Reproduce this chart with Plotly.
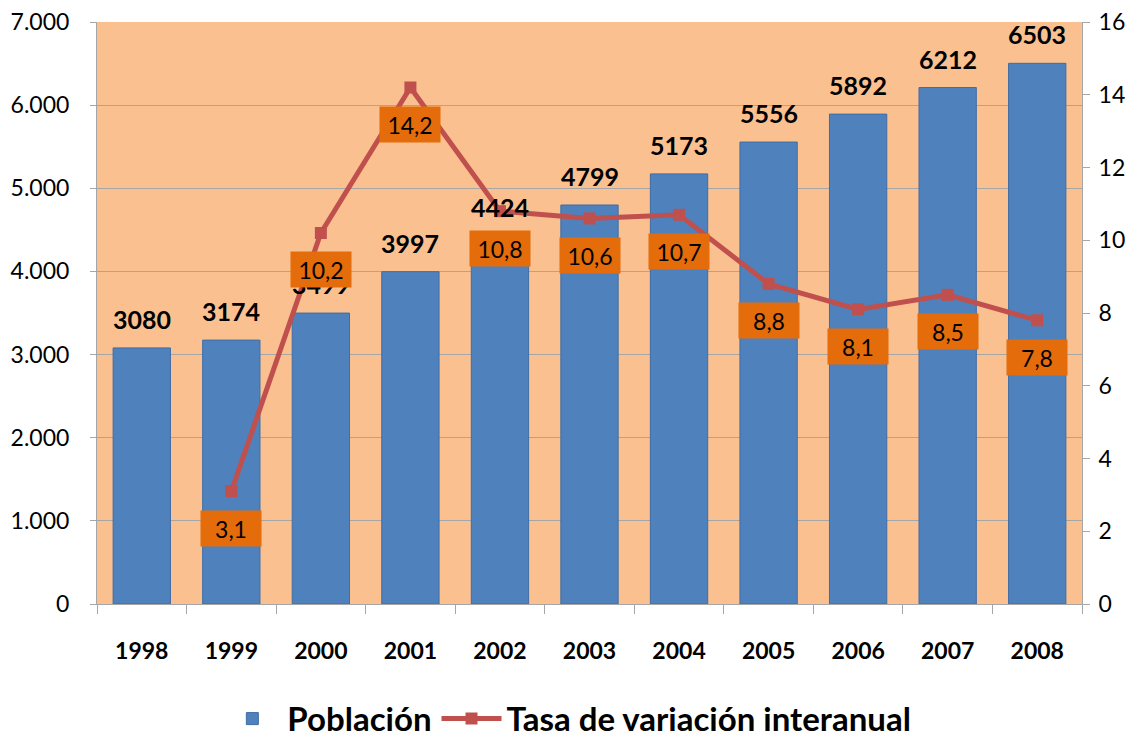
import plotly.graph_objects as go

years = ["1998", "1999", "2000", "2001", "2002", "2003", "2004", "2005", "2006", "2007", "2008"]
poblacion = [3080, 3174, 3499, 3997, 4424, 4799, 5173, 5556, 5892, 6212, 6503]
tasa_years = ["1999", "2000", "2001", "2002", "2003", "2004", "2005", "2006", "2007", "2008"]
tasa = [3.1, 10.2, 14.2, 10.8, 10.6, 10.7, 8.8, 8.1, 8.5, 7.8]
left_ticks = [0, 1000, 2000, 3000, 4000, 5000, 6000, 7000]
right_ticks = [0, 2, 4, 6, 8, 10, 12, 14, 16]

FONT = "Lato"
BLUE = "#4F81BD"
RED = "#C0504D"
ORANGE_BOX = "#E46C0A"
BG = "#FAC090"
GRID = "#A6A6A6"

fig = go.Figure()
fig.add_trace(go.Bar(
    x=years, y=poblacion, name="Población",
    marker=dict(color=BLUE, line=dict(color="#3E6DA6", width=1)),
    yaxis="y",
))
fig.add_trace(go.Scatter(
    x=tasa_years, y=tasa, name="Tasa de variación interanual",
    mode="lines+markers",
    line=dict(color=RED, width=5),
    marker=dict(symbol="square", size=12, color=RED),
    yaxis="y2",
))

annotations = []
for x, v in zip(years, poblacion):
    annotations.append(dict(
        x=years.index(x), y=v, xref="x", yref="y", text=str(v), showarrow=False,
        yshift=29, font=dict(family=FONT, size=25, color="black", weight="bold"),
    ))
for x, v in zip(tasa_years, tasa):
    annotations.append(dict(
        x=years.index(x), y=v, xref="x", yref="y2", text=f"{v:.1f}".replace(".", ","),
        showarrow=False, yshift=-37, bgcolor=ORANGE_BOX, borderpad=0,
        width=60, height=35, valign="middle",
        font=dict(family=FONT, size=23, color="black"),
    ))

fig.update_layout(
    width=1136, height=726,
    margin=dict(l=89, r=62, t=14, b=130, autoexpand=False),
    paper_bgcolor="white", plot_bgcolor=BG,
    separators=",.",
    bargap=0.36,
    showlegend=True,
    legend=dict(orientation="h", x=0.477, xanchor="center", y=-0.197, yanchor="middle",
                font=dict(family=FONT, size=33, color="black", weight="bold"),
                itemwidth=60),
    xaxis=dict(
        type="category", categoryorder="array", categoryarray=years,
        range=[-0.5, len(years) - 0.5], automargin=False,
        showline=True, linecolor=GRID, ticks="outside",
        tickson="boundaries", ticklen=9, tickcolor=GRID, tickangle=0,
        tickfont=dict(family=FONT, size=23, color="black", weight="bold"),
        ticklabelstandoff=26,
    ),
    yaxis=dict(
        range=[0, 7000], tickvals=left_ticks, tickformat=",d", automargin=False,
        showgrid=True, gridcolor=GRID, gridwidth=1, ticklabeloverflow="allow",
        showline=True, linecolor=GRID, ticks="outside", ticklen=6, tickcolor=GRID,
        tickfont=dict(family=FONT, size=23, color="black"),
        ticklabelstandoff=16, zeroline=False,
    ),
    yaxis2=dict(
        range=[0, 16], tickvals=right_ticks, overlaying="y", side="right", automargin=False,
        showgrid=False, showline=True, linecolor=GRID, ticks="outside", ticklen=7,
        tickcolor=GRID, tickfont=dict(family=FONT, size=23, color="black"),
        ticklabelstandoff=4, zeroline=False, ticklabeloverflow="allow",
    ),
    annotations=annotations,
)

fig.write_html("out.html")
